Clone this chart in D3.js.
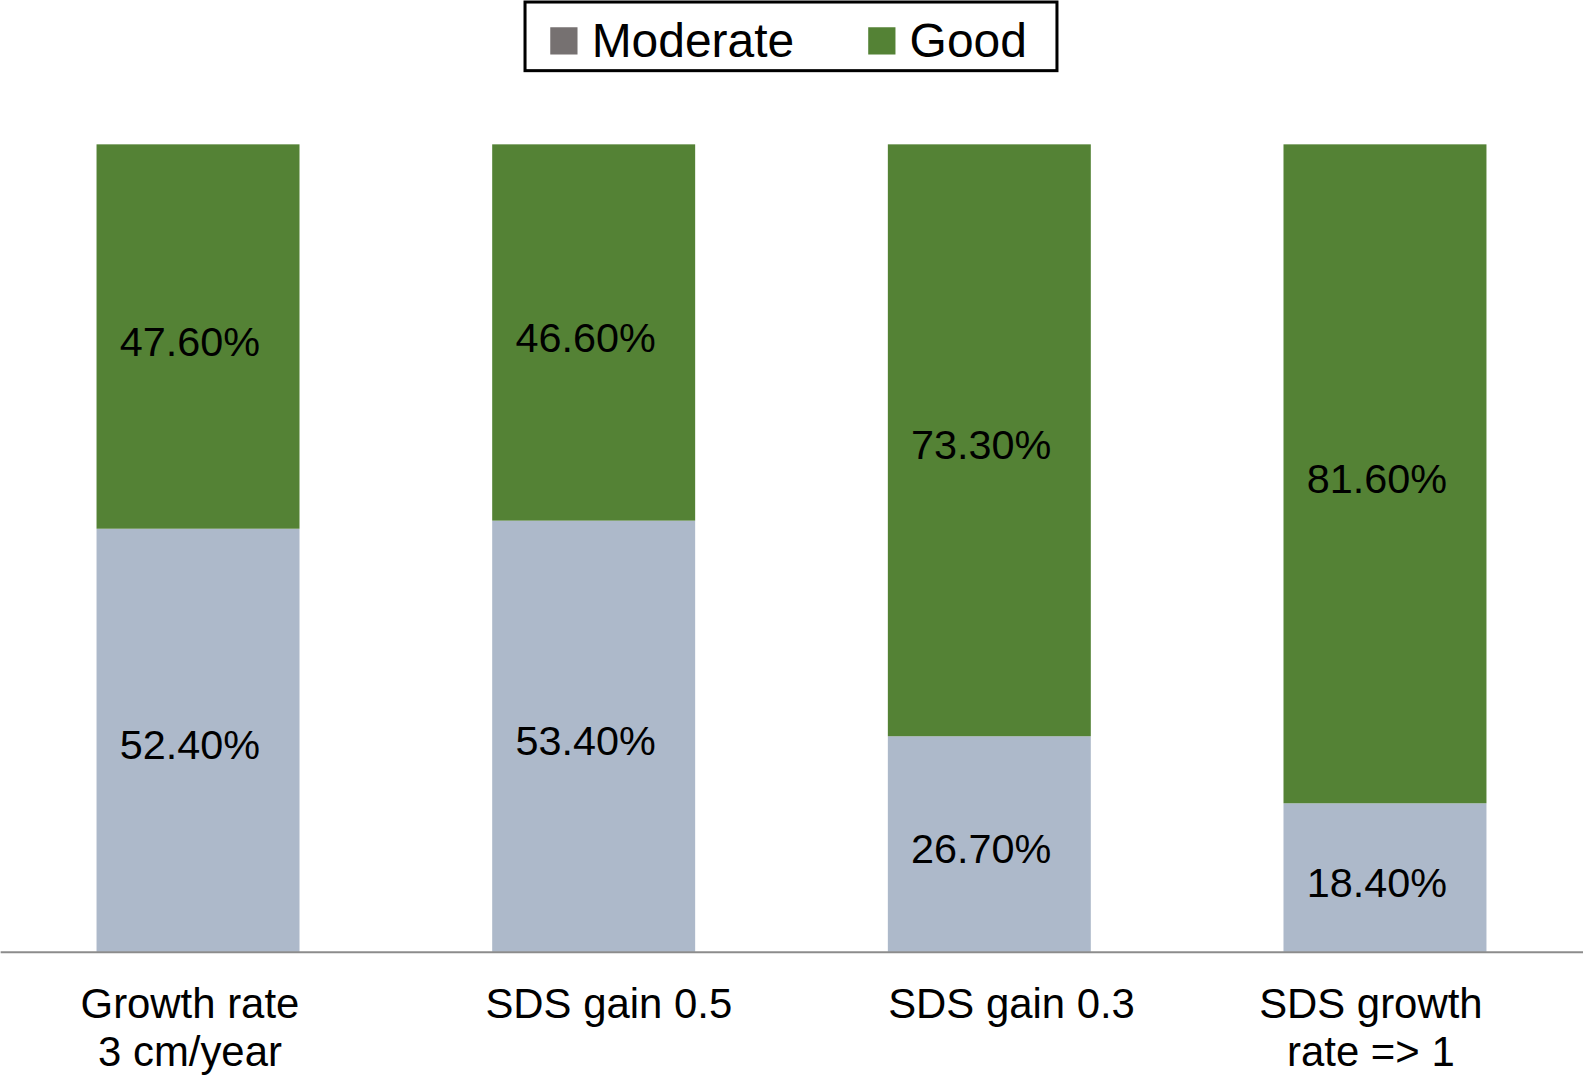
<!DOCTYPE html>
<html>
<head>
<meta charset="utf-8">
<script src="https://cdn.jsdelivr.net/npm/d3@7"></script>
<style>
    body { margin: 0; background: #fff; }
    svg { display: block; }
    svg text { font-family: "Liberation Sans", Arial, sans-serif; fill: #000; }
</style>
</head>
<body>
<script>
/*global d3*/

var categories = [
    ["Growth rate", "3 cm/year"],
    ["SDS gain 0.5"],
    ["SDS gain 0.3"],
    ["SDS growth", "rate => 1"]
];
var seriesNames = ["Moderate", "Good"];
var moderate = [52.4, 53.4, 26.7, 18.4];
var good = [47.6, 46.6, 73.3, 81.6];

var barColors = { Moderate: "#adb9ca", Good: "#548235" };
var legendColors = { Moderate: "#767171", Good: "#548235" };

/** horizontal nudge of the category labels, as placed in the original **/
var labelShift = [-8, 15, 22, -14];

var viewW = 1568,
    viewH = 1067,
    plotTop = 143,
    plotBase = 943;

var svg = d3.select("body").append("svg")
    .attr("width", 1583)
    .attr("height", 1077)
    .attr("viewBox", "0 0 " + viewW + " " + viewH);

var rows = categories.map(function (c, i) {
    return { key: i, Moderate: moderate[i], Good: good[i] };
});

var stacked = d3.stack().keys(seriesNames)(rows);

var x = d3.scaleBand()
    .domain(rows.map(function (d) { return d.key; }))
    .range([0, viewW])
    .paddingInner(0.487)
    .paddingOuter(0.2436);

var y = d3.scaleLinear().domain([0, 100]).range([plotBase, plotTop]);

/** bars **/
var layer = svg.selectAll("g.layer")
    .data(stacked)
    .enter().append("g")
    .attr("class", "layer");

layer.selectAll("rect")
    .data(function (s) { return s; })
    .enter().append("rect")
    .attr("fill", function () { return barColors[d3.select(this.parentNode).datum().key]; })
    .attr("x", function (d) { return x(d.data.key); })
    .attr("width", x.bandwidth())
    .attr("y", function (d) { return y(d[1]); })
    .attr("height", function (d) { return y(d[0]) - y(d[1]); });

/** value labels, centered in each segment **/
layer.selectAll("text")
    .data(function (s) { return s; })
    .enter().append("text")
    .attr("x", function (d) { return x(d.data.key) + x.bandwidth() / 2 - 8; })
    .attr("y", function (d) { return (y(d[0]) + y(d[1])) / 2 + 19; })
    .attr("text-anchor", "middle")
    .style("font-size", "41px")
    .text(function (d) { return (d[1] - d[0]).toFixed(2) + "%"; });

/** x axis **/
var axis = svg.append("g")
    .attr("transform", "translate(0," + plotBase + ")")
    .call(d3.axisBottom(x).tickSize(0).tickFormat(""));

axis.select(".domain")
    .attr("stroke", "#8c8c8c")
    .attr("stroke-width", 2);

axis.selectAll(".tick text").remove();
axis.selectAll(".tick").each(function (k) {
    var t = d3.select(this).append("text")
        .attr("text-anchor", "middle")
        .attr("y", 66)
        .style("font-size", "41.5px");
    categories[k].forEach(function (line, j) {
        t.append("tspan")
            .attr("x", labelShift[k])
            .attr("dy", j === 0 ? 0 : 47)
            .text(line);
    });
});

/** legend **/
var legend = svg.append("g");

legend.append("rect")
    .attr("x", 520)
    .attr("y", 2)
    .attr("width", 527)
    .attr("height", 68)
    .attr("fill", "#fff")
    .attr("stroke", "#000")
    .attr("stroke-width", 3);

var legendX = [545, 860];
seriesNames.forEach(function (name, i) {
    legend.append("rect")
        .attr("x", legendX[i])
        .attr("y", 27)
        .attr("width", 27)
        .attr("height", 27)
        .attr("fill", legendColors[name]);
    legend.append("text")
        .attr("x", legendX[i] + 41)
        .attr("y", 56)
        .style("font-size", "47.5px")
        .text(name);
});
</script>
</body>
</html>
